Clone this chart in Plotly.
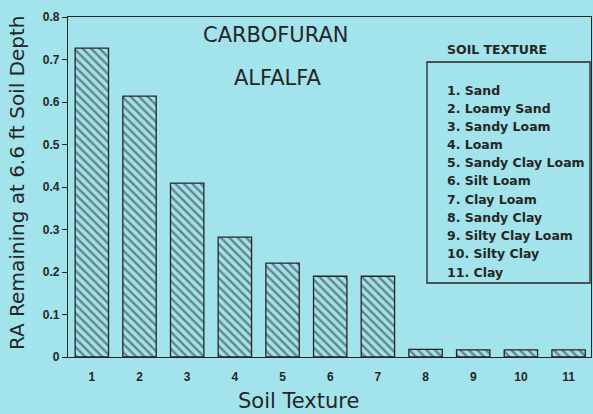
import plotly.graph_objects as go

categories = [1, 2, 3, 4, 5, 6, 7, 8, 9, 10, 11]
ra_remaining = [0.727, 0.614, 0.409, 0.282, 0.221, 0.19, 0.19, 0.018, 0.017, 0.017, 0.017]
tick_labels = ["1", "2", "3", "4", "5", "6", "7", "8", "9", "10", "11"]
soil_names = ["1. Sand", "2. Loamy Sand", "3. Sandy Loam", "4. Loam", "5. Sandy Clay Loam",
              "6. Silt Loam", "7. Clay Loam", "8. Sandy Clay", "9. Silty Clay Loam",
              "10. Silty Clay", "11. Clay"]
y_ticks = [0, 0.1, 0.2, 0.3, 0.4, 0.5, 0.6, 0.7, 0.8]

BG = "#A2E3EC"
INK = "#262626"
W, H = 593, 414
L, R, T, B = 68, 591, 17, 357
SANS = "DejaVu Sans, sans-serif"
ARIAL = "Liberation Sans, Arial, sans-serif"


def px(x):
    return (x - L) / (R - L)


def py(y):
    return (B - y) / (B - T)


fig = go.Figure()
fig.add_trace(go.Bar(
    x=categories, y=ra_remaining, width=0.7,
    marker=dict(color=BG, line=dict(color=INK, width=1.3),
                pattern=dict(shape="\\", fgcolor=INK, bgcolor=BG, size=6, solidity=0.4)),
    showlegend=False,
))

annotations = [
    dict(text="CARBOFURAN", x=px(275), y=py(35), font=dict(size=21, family=SANS)),
    dict(text="ALFALFA", x=px(277), y=py(78), font=dict(size=21, family=SANS)),
    dict(text="<b>SOIL TEXTURE</b>", x=px(497), y=py(50), font=dict(size=12.5, family=SANS)),
    dict(text="Soil Texture", x=px(298), y=py(401), font=dict(size=21, family=SANS)),
    dict(text="RA Remaining at 6.6 ft Soil Depth", x=px(17), y=py(183), textangle=-90,
         font=dict(size=20, family=SANS)),
]
for i, name in enumerate(soil_names):
    annotations.append(dict(text="<b>" + name + "</b>", x=px(445), y=py(90 + i * 18.2),
                            xanchor="left", font=dict(size=12.5, family=SANS)))
for a in annotations:
    a.setdefault("xanchor", "center")
    a.update(xref="paper", yref="paper", showarrow=False, yanchor="middle")
    a["font"].update(color=INK)

fig.update_layout(
    width=W, height=H,
    margin=dict(l=L, r=W - R, t=T, b=H - B),
    paper_bgcolor=BG, plot_bgcolor=BG,
    font=dict(family=ARIAL, color=INK),
    annotations=annotations,
    shapes=[dict(type="rect", xref="paper", yref="paper",
                 x0=px(427), x1=px(590), y0=py(283), y1=py(62),
                 line=dict(color=INK, width=1.3))],
)
fig.update_xaxes(
    range=[0.5, 11.47], tickvals=categories, ticktext=["<b>%s</b>" % t for t in tick_labels],
    showline=True, mirror=True, linecolor=INK, linewidth=1.3, showgrid=False, zeroline=False,
    ticks="", tickfont=dict(size=12, color=INK), ticklabelstandoff=8,
)
fig.update_yaxes(
    range=[0, 0.8], tickvals=y_ticks, ticktext=["<b>%g</b>" % v for v in y_ticks],
    showline=True, mirror=True, linecolor=INK, linewidth=1.3, showgrid=False, zeroline=False,
    ticks="outside", ticklen=5, tickcolor=INK, tickwidth=1.2, tickfont=dict(size=12, color=INK),
)

fig.write_html("out.html", config={"displayModeBar": False},
               post_script="document.body.style.margin='0';document.body.style.overflow='hidden';")
